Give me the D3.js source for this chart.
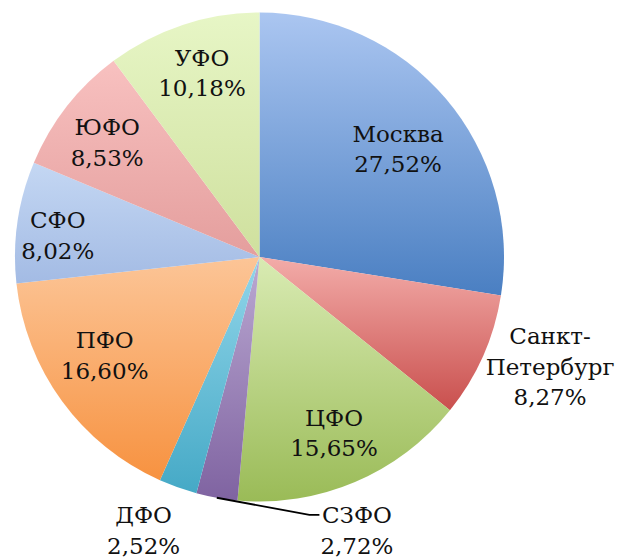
<!DOCTYPE html>
<html>
<head>
<meta charset="utf-8">
<script src="https://cdn.jsdelivr.net/npm/d3@7"></script>
<style>
  html, body { margin: 0; padding: 0; background: #ffffff; }
  svg { display: block; }
</style>
</head>
<body>
<svg id="chart" width="620" height="559"></svg>
<script>
// ---- data ----
const categories = ["Москва", "Санкт-Петербург", "ЦФО", "СЗФО", "ДФО", "ПФО", "СФО", "ЮФО", "УФО"];
const values = [27.52, 8.27, 15.65, 2.72, 2.52, 16.60, 8.02, 8.53, 10.18];
const labelNames = [["Москва"], ["Санкт-", "Петербург"], ["ЦФО"], ["СЗФО"], ["ДФО"], ["ПФО"], ["СФО"], ["ЮФО"], ["УФО"]];

// ---- styles ----
const colorTop    = ["#abc6f1", "#f3aca9", "#d9ebb3", "#bba9d2", "#92d6ea", "#fcc597", "#c4d7f3", "#f8c1c0", "#e7f6c6"];
const colorBottom = ["#4a7fc2", "#c94f4d", "#9abb57", "#7f63a1", "#45a9c6", "#f79240", "#a3bbe4", "#e49e9d", "#cfe09e"];
// label placement relative to each slice's mid-angle: radius factor and angle nudge (degrees)
const labelLayout = [
  {rf: 0.72, da: 2.4},
  {rf: 1.27, da: -3.3},
  {rf: 0.78, da: 0},
  {rf: 1.186, da: -29.7, leader: true},
  {rf: 1.213, da: 3.5},
  {rf: 0.75, da: 3.7},
  {rf: 0.83, da: -2},
  {rf: 0.78, da: -1},
  {rf: 0.79, da: 1}
];

const W = 620, H = 559;
const cx = 259.5, cy = 257, R = 244.5;
const fontSize = 23, lineGap = 30.5, capH = 0.729 * fontSize;

const svg = d3.select("#chart");
const defs = svg.append("defs");

const data = categories.map((c, i) => ({name: c, value: values[i], i}));
const pie = d3.pie().value(d => d.value).sort(null);
const arcs = pie(data);
const arc = d3.arc().innerRadius(0).outerRadius(R);

arcs.forEach((a, i) => {
  const g = defs.append("linearGradient")
    .attr("id", "grad" + i)
    .attr("x1", 0).attr("y1", 0).attr("x2", 0).attr("y2", 1);
  g.append("stop").attr("offset", "0%").attr("stop-color", colorTop[i]);
  g.append("stop").attr("offset", "100%").attr("stop-color", colorBottom[i]);
});

const gPie = svg.append("g").attr("transform", `translate(${cx},${cy})`);
gPie.selectAll("path.slice")
  .data(arcs)
  .join("path")
  .attr("class", "slice")
  .attr("d", arc)
  .attr("fill", (d, i) => `url(#grad${i})`);

const fmt = v => v.toFixed(2).replace(".", ",") + "%";

const gLab = svg.append("g");
arcs.forEach((a, i) => {
  const L = labelLayout[i];
  const mid = (a.startAngle + a.endAngle) / 2;
  const ang = mid + L.da * Math.PI / 180;
  const r = R * L.rf;
  const x = cx + r * Math.sin(ang);
  const y = cy - r * Math.cos(ang);
  const lines = labelNames[i].concat([fmt(a.data.value)]);
  const total = (lines.length - 1) * lineGap + capH;
  const firstBase = y - total / 2 + capH;
  const t = gLab.append("text")
    .attr("text-anchor", "middle")
    .attr("font-family", "'DejaVu Serif', serif")
    .attr("font-size", fontSize)
    .attr("fill", "#111");
  lines.forEach((s, k) => {
    t.append("tspan").attr("x", x).attr("y", firstBase + k * lineGap).text(s);
  });
  if (L.leader) {
    const ex = cx + R * Math.sin(mid), ey = cy - R * Math.cos(mid);
    const tw = t.node().getBBox();
    const ly = firstBase - capH / 2;
    const endX = tw.x - 1;
    const bendX = endX - 10;
    gLab.append("path")
      .attr("d", `M${ex},${ey}L${bendX},${ly}L${endX},${ly}`)
      .attr("fill", "none")
      .attr("stroke", "#000")
      .attr("stroke-width", 1.8);
  }
});
</script>
</body>
</html>
